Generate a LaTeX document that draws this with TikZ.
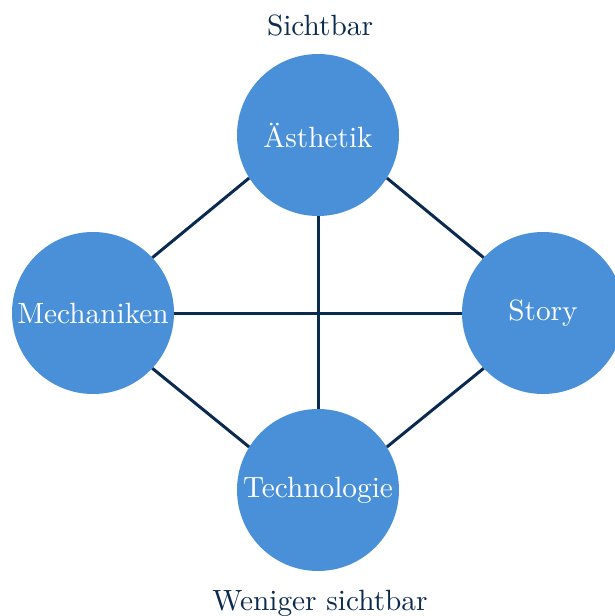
\documentclass[tikz,border=0pt]{standalone}
\usepackage{fontspec}
\usepackage{graphicx}
\definecolor{nodeblue}{HTML}{4A90D9}
\definecolor{navy}{HTML}{0B2A4F}
% labels are set at 10pt and enlarged, keeping the 10pt design size
\newcommand\biglabel[1]{\scalebox{2.93}{#1}}
\begin{document}
\begin{tikzpicture}[x=1pt,y=-1pt,
  bubble/.style={circle,fill=nodeblue,text=white,minimum size=162pt,inner sep=0pt},
  link/.style={draw=navy,line width=3pt},
  caption/.style={text=navy,inner sep=0pt}]
  \useasboundingbox (0,0) rectangle (615,616);
  \begin{scope}
    \clip (0,0) rectangle (615,616);
    % four aspects
    \node[bubble] (ae) at (318,135) {\biglabel{Ästhetik}};
    \node[bubble] (me) at (93,313) {\biglabel{Mechaniken}};
    \node[bubble] (st) at (543,313) {\biglabel{Story}};
    \node[bubble] (te) at (318,490) {\biglabel{Technologie}};
    % connections
    \draw[link] (ae.212) -- (me.43);
    \draw[link] (ae.328) -- (st.137);
    \draw[link] (me.317) -- (te.148);
    \draw[link] (st.223) -- (te.32);
    \draw[link] (me) -- (st);
    \draw[link] (ae) -- (te);
    % visibility axis
    \node[caption] (top) at (320,25) {\biglabel{Sichtbar}};
    \node[caption] (bot) at (320,603) {\biglabel{Weniger sichtbar}};
  \end{scope}
\end{tikzpicture}
\end{document}
